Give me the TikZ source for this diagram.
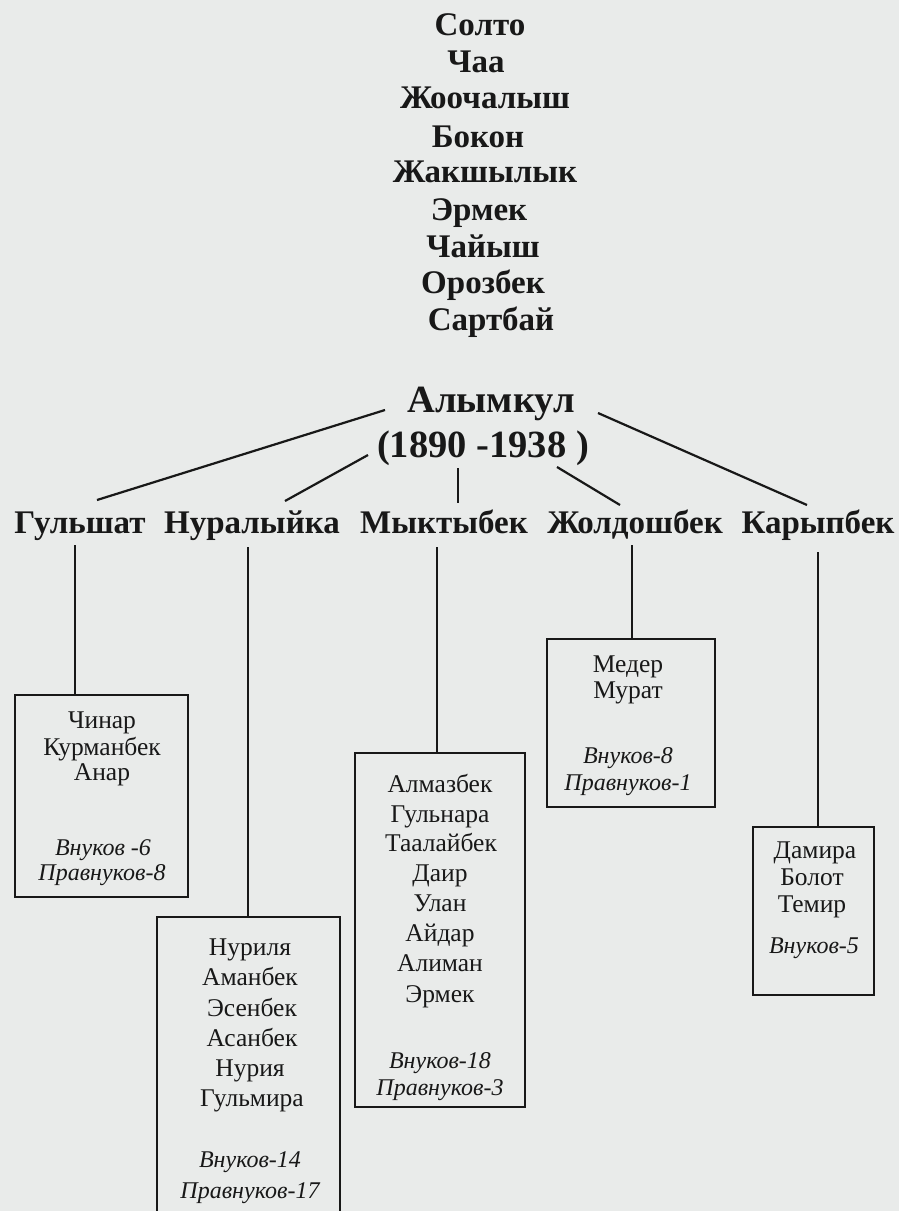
\documentclass[tikz,border=0pt]{standalone}
\usepackage{fontspec}
\setmainfont{Liberation Serif}
\definecolor{paper}{RGB}{233,235,234}
\definecolor{ink}{RGB}{24,24,24}
\tikzset{
  anc/.style={font=\fontsize{33}{33}\selectfont\bfseries, anchor=base, inner sep=0pt, text=ink},
  root/.style={font=\fontsize{38.5}{38.5}\selectfont\bfseries, anchor=base, inner sep=0pt, text=ink},
  child/.style={font=\fontsize{33}{33}\selectfont\bfseries, anchor=base, inner sep=0pt, text=ink},
  gname/.style={font=\fontsize{25.5}{25.5}\selectfont, anchor=base, inner sep=0pt, text=ink},
  gcount/.style={font=\fontsize{24}{24}\selectfont\itshape, anchor=base, inner sep=0pt, text=ink},
  famebox/.style={draw=ink, line width=2.4pt, rectangle, inner sep=0pt},
  link/.style={draw=ink, line width=2.2pt}
}
\begin{document}
\begin{tikzpicture}[x=1pt,y=-1pt]
\fill[paper] (0,0) rectangle (899,1211);
\useasboundingbox (0,0) rectangle (899,1211);
\begin{scope}
\clip (0,0) rectangle (899,1211);
% ancestors
\node[anc] (a1) at (480,35) {Солто};
\node[anc] (a2) at (476,72) {Чаа};
\node[anc] (a3) at (485,108) {Жоочалыш};
\node[anc] (a4) at (478,147) {Бокон};
\node[anc] (a5) at (485,182) {Жакшылык};
\node[anc] (a6) at (479,220) {Эрмек};
\node[anc] (a7) at (483,257) {Чайыш};
\node[anc] (a8) at (483,293) {Орозбек};
\node[anc] (a9) at (491,330) {Сартбай};
% root
\node[root] (r) at (491,412) {Алымкул};
\node[root] (ry) at (483,457) {(1890 -1938 )};
% children
\node[child] (c1) at (80,533) {Гульшат};
\node[child] (c2) at (252,533) {Нуралыйка};
\node[child] (c3) at (444,533) {Мыктыбек};
\node[child] (c4) at (635,533) {Жолдошбек};
\node[child] (c5) at (818,533) {Карыпбек};
% connector ends
\coordinate (p1) at (385,410); \coordinate (q1) at (97,500);
\coordinate (p2) at (368,455); \coordinate (q2) at (285,501);
\coordinate (p3) at (458,468); \coordinate (q3) at (458,503);
\coordinate (p4) at (557,467); \coordinate (q4) at (620,505);
\coordinate (p5) at (598,413); \coordinate (q5) at (807,505);
\draw[link] (p1) -- (q1);
\draw[link] (p2) -- (q2);
\draw[link] (p3) -- (q3);
\draw[link] (p4) -- (q4);
\draw[link] (p5) -- (q5);
% boxes
\node[famebox, minimum width=173pt, minimum height=202pt] (b1) at (101.5,796) {};
\node[famebox, minimum width=183pt, minimum height=320pt] (b2) at (248.5,1077) {};
\node[famebox, minimum width=170pt, minimum height=354pt] (b3) at (440,930) {};
\node[famebox, minimum width=168pt, minimum height=168pt] (b4) at (631,723) {};
\node[famebox, minimum width=121pt, minimum height=168pt] (b5) at (813.5,911) {};
% vertical connectors
\coordinate (v1) at (75,545);
\coordinate (v2) at (248,547);
\coordinate (v3) at (437,547);
\coordinate (v4) at (632,545);
\coordinate (v5) at (818,552);
\draw[link] (v1) -- (v1 |- b1.north);
\draw[link] (v2) -- (v2 |- b2.north);
\draw[link] (v3) -- (v3 |- b3.north);
\draw[link] (v4) -- (v4 |- b4.north);
\draw[link] (v5) -- (v5 |- b5.north);
% box 1
\node[gname] (g11) at (102,728) {Чинар};
\node[gname] (g12) at (102,755) {Курманбек};
\node[gname] (g13) at (102,780) {Анар};
\node[gcount] (n1) at (103,855) {Внуков -6};
\node[gcount] (m1) at (102,880) {Правнуков-8};
% box 2
\node[gname] (g21) at (250,955) {Нуриля};
\node[gname] (g22) at (250,985) {Аманбек};
\node[gname] (g23) at (252,1016) {Эсенбек};
\node[gname] (g24) at (252,1046) {Асанбек};
\node[gname] (g25) at (250,1076) {Нурия};
\node[gname] (g26) at (252,1106) {Гульмира};
\node[gcount] (n2) at (250,1167) {Внуков-14};
\node[gcount] (m2) at (250,1198) {Правнуков-17};
% box 3
\node[gname] (g31) at (440,792) {Алмазбек};
\node[gname] (g32) at (440,822) {Гульнара};
\node[gname] (g33) at (441,851) {Таалайбек};
\node[gname] (g34) at (440,881) {Даир};
\node[gname] (g35) at (440,911) {Улан};
\node[gname] (g36) at (440,941) {Айдар};
\node[gname] (g37) at (440,971) {Алиман};
\node[gname] (g38) at (440,1002) {Эрмек};
\node[gcount] (n3) at (440,1068) {Внуков-18};
\node[gcount] (m3) at (440,1095) {Правнуков-3};
% box 4
\node[gname] (g41) at (628,672) {Медер};
\node[gname] (g42) at (628,698) {Мурат};
\node[gcount] (n4) at (628,763) {Внуков-8};
\node[gcount] (m4) at (628,790) {Правнуков-1};
% box 5
\node[gname] (g51) at (815,858) {Дамира};
\node[gname] (g52) at (812,885) {Болот};
\node[gname] (g53) at (812,912) {Темир};
\node[gcount] (n5) at (814,953) {Внуков-5};
\end{scope}
\end{tikzpicture}
\end{document}
